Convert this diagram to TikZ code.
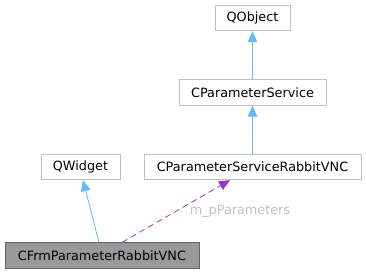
\documentclass[tikz,border=0pt]{standalone}
\usepackage{fontspec}
\setmainfont{DejaVu Sans}
\usetikzlibrary{arrows.meta, positioning, calc}

\definecolor{boxline}{HTML}{BFBFBF}
\definecolor{inhline}{HTML}{63B8FF}
\definecolor{useline}{HTML}{9A32CD}
\definecolor{curfill}{HTML}{999999}
\definecolor{curline}{HTML}{666666}

\begin{document}
\begin{tikzpicture}[
    x=1bp, y=-1bp,
    cls/.style={rectangle, draw=boxline, fill=white, line width=0.8bp,
                minimum height=25.5bp, inner sep=0pt, align=center,
                font=\fontsize{12.8bp}{15bp}\selectfont},
    current/.style={cls, fill=curfill, draw=curline},
    inherit/.style={-{Triangle[length=11bp, width=9.5bp]}, inhline, line width=0.8bp},
    uses/.style={-{Triangle[length=11bp, width=9.5bp]}, useline, dashed,
                 dash pattern=on 6bp off 4bp, line width=0.8bp},
    lbl/.style={font=\fontsize{12.8bp}{15bp}\selectfont, text=boxline, inner sep=0pt},
]
    \useasboundingbox (0,0) rectangle (366,273);

    % --- classes ---
    \node[cls, minimum width=75bp]  (qobject) at (252.5,18)  {QObject};
    \node[cls, minimum width=147bp] (psvc)    at (252.5,92.5) {CParameterService};
    \node[cls, minimum width=217bp] (psrvnc)  at (252.5,167) {CParameterServiceRabbitVNC};
    \node[cls, minimum width=79bp]  (qwidget) at (80.5,167)  {QWidget};
    \node[current, minimum width=194bp] (frm) at (102,255.5) {CFrmParameterRabbitVNC};

    % --- inheritance ---
    \draw[inherit] (psvc) -- (qobject);
    \draw[inherit] (psrvnc) -- (psvc);
    \draw[inherit] ([xshift=-3bp]frm.north) -- ([xshift=2.5bp]qwidget.south);

    % --- member ---
    \draw[uses] ([xshift=20bp]frm.north) -- ([xshift=-22.5bp]psrvnc.south);
    \node[lbl] (member) at (240,211) {m\_pParameters};
\end{tikzpicture}
\end{document}
